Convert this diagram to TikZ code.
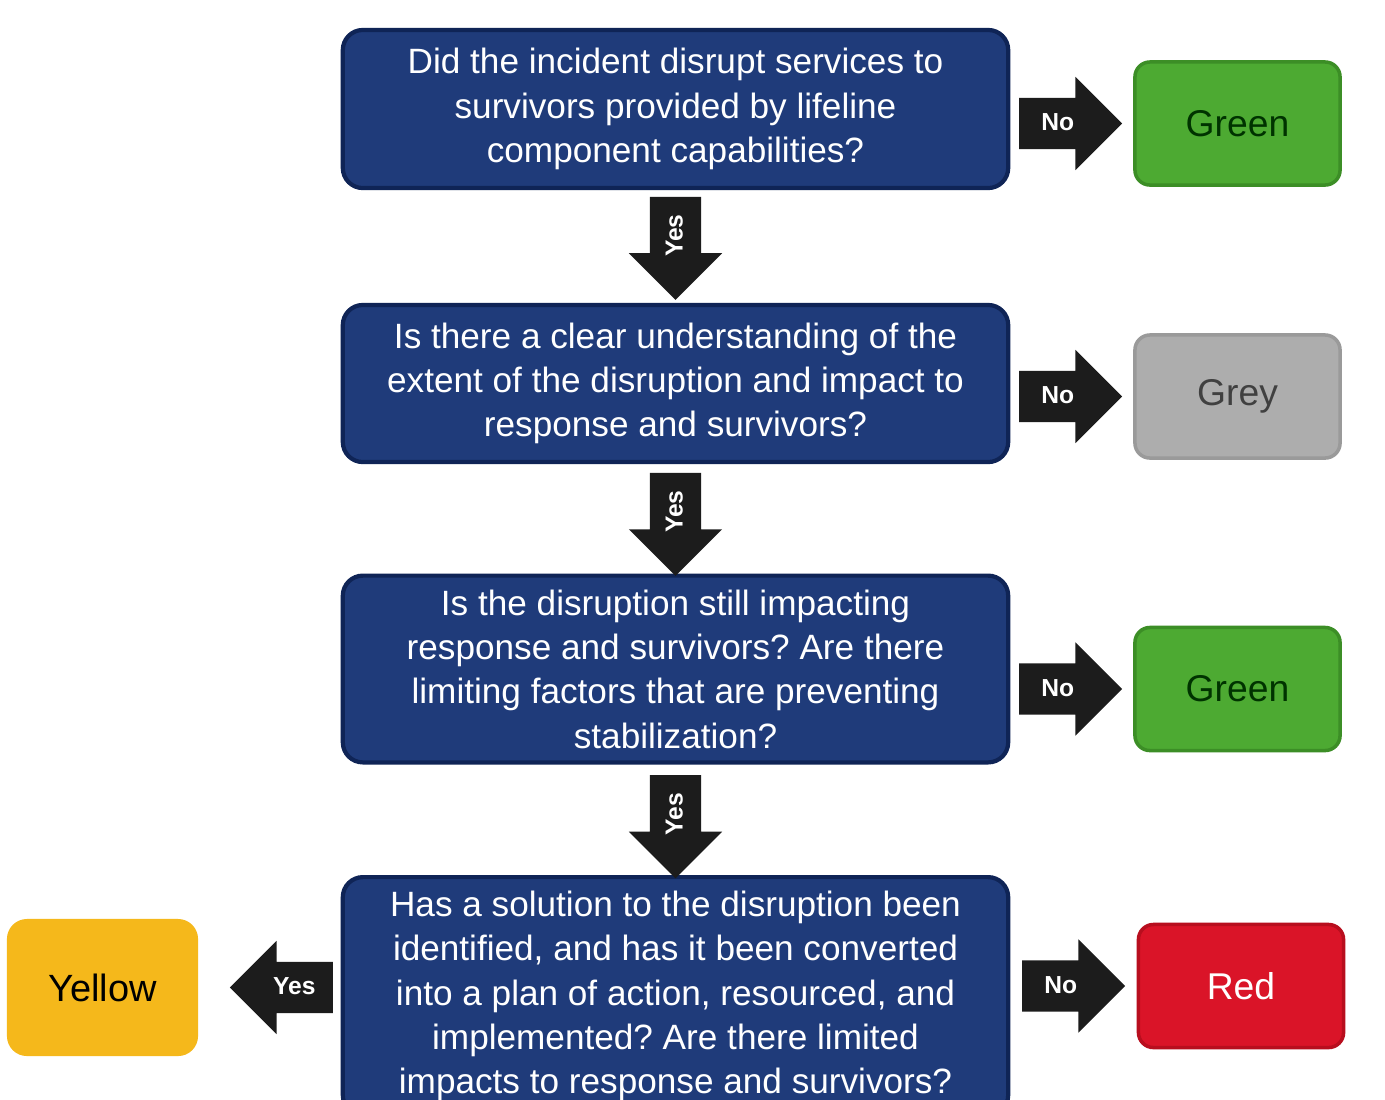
\documentclass[tikz,border=0pt]{standalone}
\usepackage{fontspec}
\setmainfont{Liberation Sans}
\usetikzlibrary{shapes.arrows}

\definecolor{navyfill}{HTML}{1F3B7A}
\definecolor{navyedge}{HTML}{0F2456}
\definecolor{arrowblack}{HTML}{1C1C1C}
\definecolor{okgreen}{HTML}{4DAA32}
\definecolor{okgreenedge}{HTML}{3C8E26}
\definecolor{greytone}{HTML}{ADADAD}
\definecolor{greyedge}{HTML}{9A9A9A}
\definecolor{alertred}{HTML}{DA1428}
\definecolor{alertrededge}{HTML}{B80E1E}
\definecolor{warnyellow}{HTML}{F5B81B}

\begin{document}
\frenchspacing
\begin{tikzpicture}[x=0.01cm,y=-0.01cm,
    question/.style={draw=navyedge, line width=1.2pt, fill=navyfill, rounded corners=0.2cm,
      minimum width=6.65cm, text=white, align=center, inner ysep=0.14cm,
      font=\fontsize{10}{12.6}\selectfont},
    outcome/.style={rounded corners=0.15cm, minimum width=2.05cm, minimum height=1.23cm,
      line width=1pt, font=\fontsize{10.6}{13}\selectfont},
    fatarrow/.style={single arrow, fill=arrowblack, text=white, anchor=tail,
      font=\bfseries\fontsize{7}{8}\selectfont, minimum height=1.03cm,
      single arrow head extend=0.21cm, text height=5pt, text depth=1pt,
      inner ysep=4.1pt, inner xsep=2pt},
    downarrow/.style={fatarrow, rotate=90, shape border rotate=180},
    leftarrow/.style={fatarrow, shape border rotate=180}]

  \path[use as bounding box, fill=white] (0,0) rectangle (1385,1099);
  \clip (0,0) rectangle (1385,1099);

  % questions
  \node[question, minimum height=1.58cm] (q1) at (675.5,109)
    {Did the incident disrupt services to\\survivors provided by lifeline\\component capabilities?};
  \node[question, minimum height=1.57cm] (q2) at (675.5,383.5)
    {Is there a clear understanding of the\\extent of the disruption and impact to\\response and survivors?};
  \node[question, minimum height=1.70cm] (q3) at (675.5,669)
    {Is the disruption still impacting\\response and survivors? Are there\\limiting factors that are preventing\\stabilization?};
  \node[question, anchor=north] (q4) at (675.5,875)
    {Has a solution to the disruption been\\identified, and has it been converted\\into a plan of action, resourced, and\\implemented? Are there limited\\impacts to response and survivors?};

  % outcomes
  \node[outcome, fill=okgreen, draw=okgreenedge, text=black!80!green] (green1) at (1237.5,123.5) {Green};
  \node[outcome, fill=greytone, draw=greyedge, text=black!75] (grey) at (1237.5,396.5) {Grey};
  \node[outcome, fill=okgreen, draw=okgreenedge, text=black!80!green] (green2) at (1237.5,689) {Green};
  \node[outcome, fill=alertred, draw=alertrededge, text=white] (red) at (1241,986) {Red};
  \node[outcome, fill=warnyellow, rounded corners=0.2cm, minimum width=1.91cm,
    minimum height=1.37cm, font=\fontsize{10.8}{13}\selectfont] (yellow) at (102.5,987.5) {Yellow};

  % yes arrows
  \node[downarrow] (yes1) at ([yshift=-0.06cm]q1.south) {Yes};
  \node[downarrow] (yes2) at ([yshift=-0.08cm]q2.south) {Yes};
  \node[downarrow] (yes3) at ([yshift=-0.10cm]q3.south) {Yes};
  \node[leftarrow] (yes4) at ([xshift=-0.07cm]q4.west |- yellow.east) {Yes};

  % no arrows
  \node[fatarrow] (no1) at ([xshift=0.08cm]q1.east |- green1.west) {No};
  \node[fatarrow] (no2) at ([xshift=0.08cm]q2.east |- grey.west) {No};
  \node[fatarrow] (no3) at ([xshift=0.08cm]q3.east |- green2.west) {No};
  \node[fatarrow] (no4) at ([xshift=0.11cm]q4.east |- red.west) {No};
\end{tikzpicture}
\end{document}
